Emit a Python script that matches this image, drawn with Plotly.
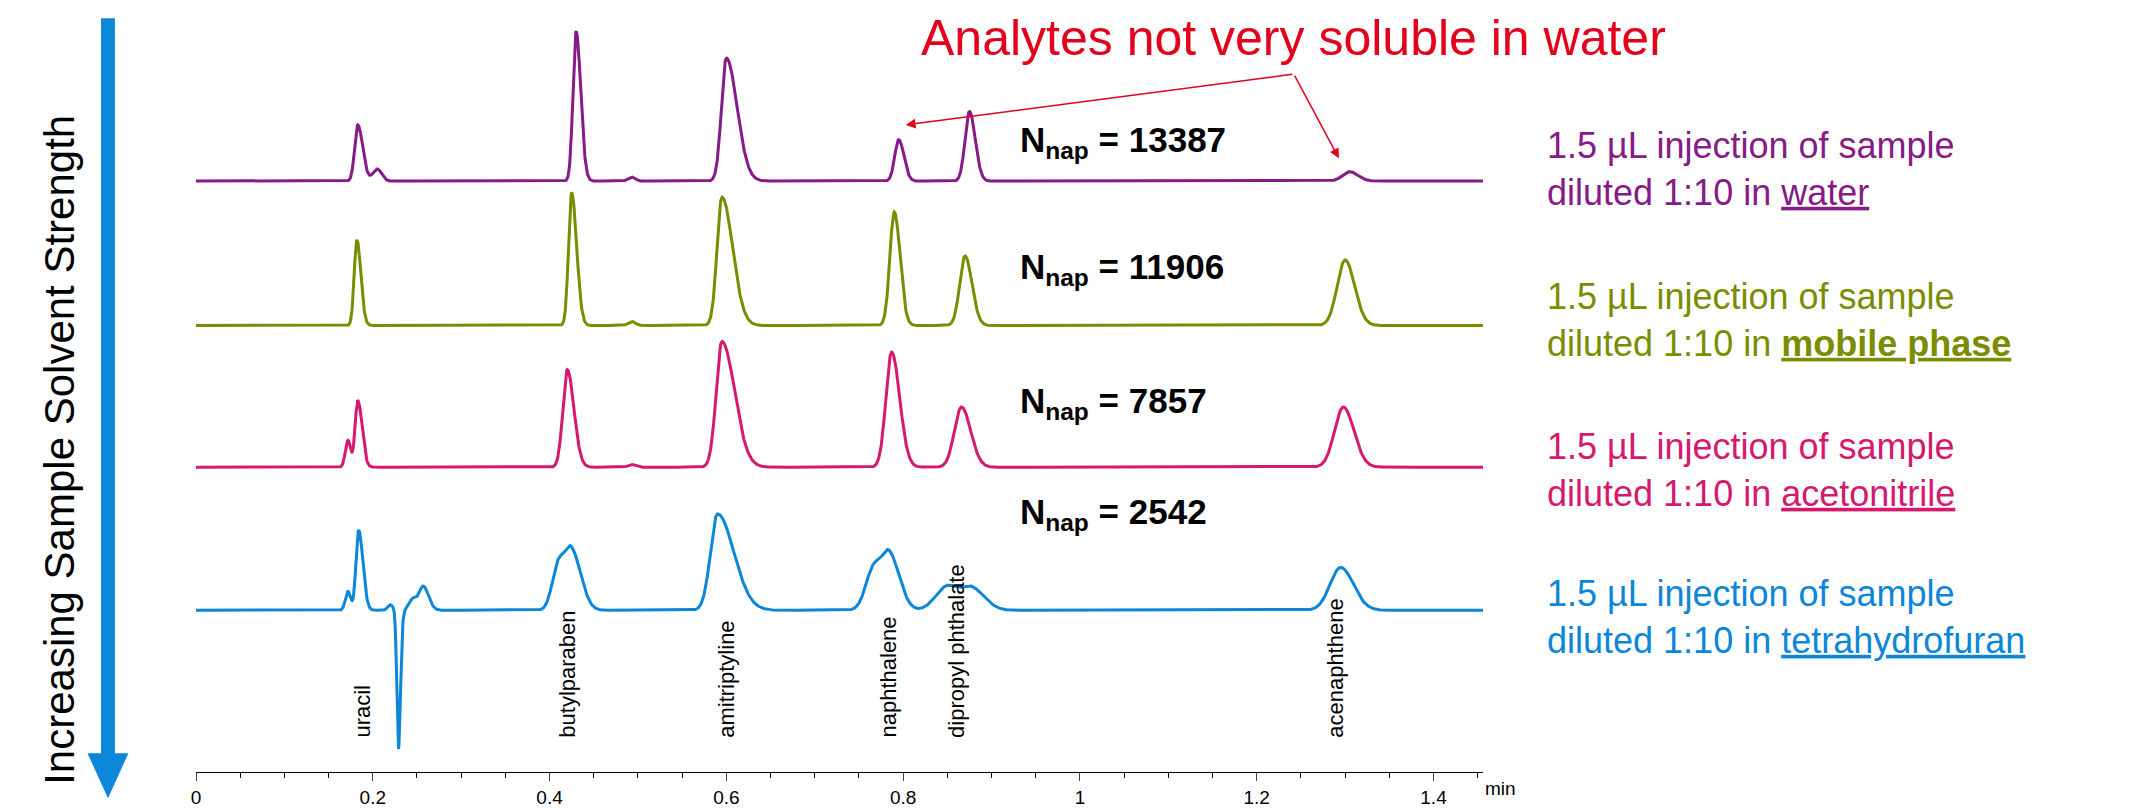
import numpy as np
import plotly.graph_objects as go

# chromatograms: each trace is a baseline offset plus a table of peaks
# peak table = retention time (min), height, sigma (min), tailing factor
names = ["water", "mobile phase", "acetonitrile", "tetrahydrofuran"]
colors = ["#861a86", "#7b8c00", "#d6186f", "#0b86d8"]
baselines = [321, 213, 107, 0]

rt = [
    [0.183, 0.205, 0.430, 0.493, 0.600, 0.795, 0.875, 1.305],
    [0.182, 0.425, 0.493, 0.595, 0.790, 0.870, 1.300],
    [0.172, 0.183, 0.420, 0.493, 0.595, 0.787, 0.866, 1.298],
    [0.172, 0.184, 0.220, 0.229, 0.245, 0.257, 0.410, 0.425, 0.590,
     0.767, 0.785, 0.850, 0.878, 1.295],
]
height = [
    [42, 9, 112, 3, 92, 31, 52, 7],
    [64, 99, 3, 96, 85, 52, 49],
    [20, 50, 73, 2, 94, 86, 45, 45],
    [14, 60, 4, -104, 8, 18, 34, 44, 72, 32, 40, 18, 16, 32],
]
sigma = [
    [0.0035, 0.005, 0.0035, 0.004, 0.0055, 0.0045, 0.005, 0.008],
    [0.003, 0.0035, 0.004, 0.0055, 0.005, 0.006, 0.009],
    [0.003, 0.003, 0.005, 0.004, 0.0065, 0.0065, 0.008, 0.010],
    [0.003, 0.003, 0.003, 0.0018, 0.004, 0.005, 0.007, 0.007, 0.008,
     0.009, 0.008, 0.013, 0.011, 0.012],
]
tailing = [
    [1.6, 1.0, 1.5, 1.0, 2.2, 1.3, 1.3, 1.2],
    [1.5, 1.6, 1.0, 2.2, 1.3, 1.3, 1.2],
    [1.0, 1.6, 1.5, 1.0, 2.2, 1.4, 1.3, 1.2],
    [1.0, 1.6, 1.0, 1.3, 1.0, 1.2, 1.0, 1.5, 2.3, 1.0, 1.4, 1.0, 1.3, 1.2],
]

plate_counts = ["13387", "11906", "7857", "2542"]
plate_x = [0.93, 0.93, 0.93, 0.93]
plate_y = [350, 255, 155, 72]

compounds = ["uracil", "butylparaben", "amitriptyline", "naphthalene",
             "dipropyl phthalate", "acenaphthene"]
compound_x = [0.188, 0.42, 0.60, 0.783, 0.861, 1.289]

label_y = [330, 217, 105, -5]

t = np.linspace(0, 1.456, 3000)

fig = go.Figure()
for i in range(4):
    y = np.zeros_like(t) + baselines[i]
    for tr, h, s, tf in zip(rt[i], height[i], sigma[i], tailing[i]):
        w = np.where(t < tr, s, s * tf)
        y += h * np.exp(-0.5 * ((t - tr) / w) ** 2)
    fig.add_trace(go.Scatter(x=t, y=y, mode="lines", line=dict(color=colors[i], width=3),
                             showlegend=False, hoverinfo="skip"))

    if names[i] == "mobile phase":
        solvent = "<b><u>mobile phase</u></b>"
    else:
        solvent = "<u>" + names[i] + "</u>"
    fig.add_annotation(x=1.048, xref="paper", y=label_y[i], yref="y", xanchor="left",
                       text="1.5 µL injection of sample<br>diluted 1:10 in " + solvent,
                       showarrow=False, align="left",
                       font=dict(size=36, color=colors[i], family="Liberation Sans"))
    fig.add_annotation(x=plate_x[i], y=plate_y[i], xanchor="left", showarrow=False,
                       text="<b>N<sub>nap</sub> = " + plate_counts[i] + "</b>",
                       font=dict(size=35, color="black", family="Liberation Sans"))

for name, xc in zip(compounds, compound_x):
    fig.add_annotation(x=xc, y=-97, text=name, textangle=-90, yanchor="bottom",
                       showarrow=False, font=dict(size=22, color="black", family="Liberation Sans"))

# red callout
fig.add_annotation(x=1.242, y=428, text="Analytes not very soluble in water", showarrow=False,
                   font=dict(size=50, color="#e2001a", family="Liberation Sans"))
for hx, hy in [(0.803, 363), (1.293, 338)]:
    fig.add_annotation(x=hx, y=hy, ax=1.242, ay=401, axref="x", ayref="y", text="",
                       showarrow=True, arrowhead=2, arrowsize=1.3, arrowwidth=1.5,
                       arrowcolor="#e2001a")

# blue arrow on the left
fig.add_shape(type="rect", xref="paper", yref="paper", x0=-0.0738, x1=-0.063,
              y0=0.02, y1=1.005, fillcolor="#0b86d8", line_width=0)
fig.add_shape(type="path", xref="paper", yref="paper",
              path="M -0.0843 0.025 L -0.0525 0.025 L -0.0684 -0.035 Z",
              fillcolor="#0b86d8", line_width=0)
fig.add_annotation(x=-0.126, xref="paper", y=0.43, yref="paper", textangle=-90,
                   text="Increasing Sample Solvent Strength", showarrow=False,
                   font=dict(size=42, color="black", family="Liberation Sans"))

fig.add_annotation(x=1.0, xref="paper", y=-0.005, yref="paper", yanchor="top", xanchor="left",
                   text="min", showarrow=False, font=dict(size=19, color="black", family="Liberation Sans"))

fig.update_layout(
    width=2154, height=812, plot_bgcolor="white", paper_bgcolor="white",
    margin=dict(l=188, r=679, t=14, b=27),
    xaxis=dict(range=[0, 1.456], showgrid=False, zeroline=False, showline=True,
               linecolor="black", linewidth=1, ticks="outside", ticklen=8,
               tickvals=[0, 0.2, 0.4, 0.6, 0.8, 1, 1.2, 1.4],
               ticktext=["0", "0.2", "0.4", "0.6", "0.8", "1", "1.2", "1.4"],
               minor=dict(dtick=0.05, ticks="outside", ticklen=5, tickcolor="black"),
               tickfont=dict(size=19, color="black", family="Liberation Sans")),
    yaxis=dict(range=[-121, 440], visible=False),
)

fig.write_html("out.html")
